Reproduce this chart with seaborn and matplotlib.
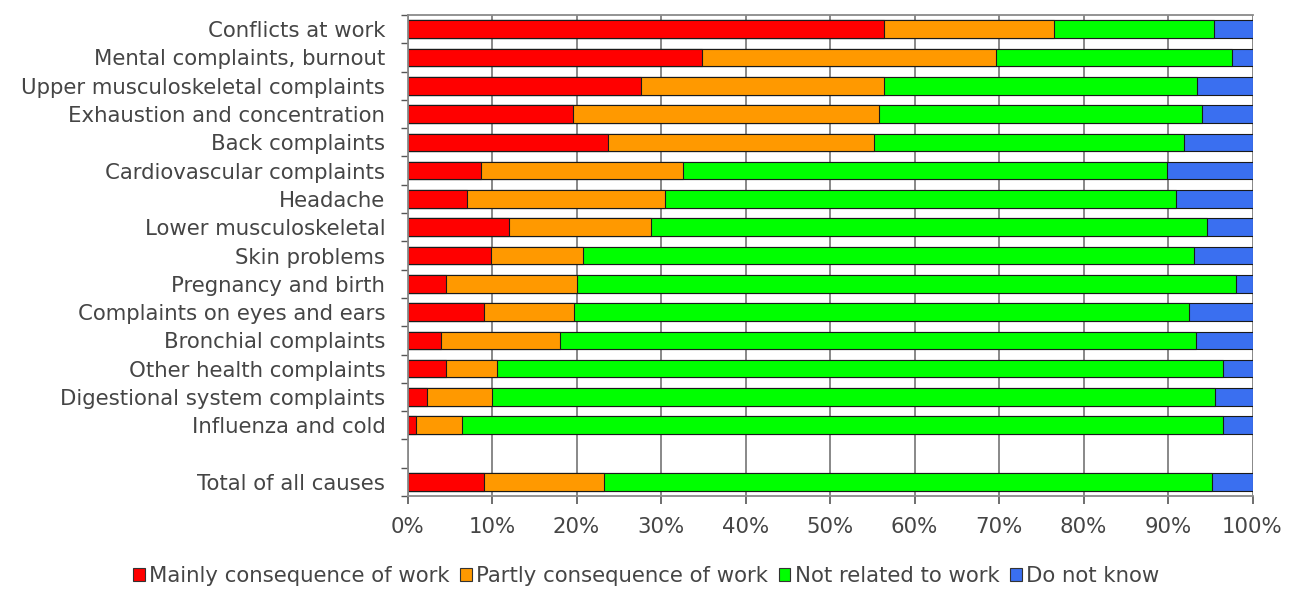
import matplotlib
matplotlib.use("Agg")
import matplotlib.pyplot as plt
from matplotlib.patches import Patch
import numpy as np
import pandas as pd
import seaborn as sns

causes = [
    "Conflicts at work", "Mental complaints, burnout", "Upper musculoskeletal complaints",
    "Exhaustion and concentration", "Back complaints", "Cardiovascular complaints",
    "Headache", "Lower musculoskeletal", "Skin problems", "Pregnancy and birth",
    "Complaints on eyes and ears", "Bronchial complaints", "Other health complaints",
    "Digestional system complaints", "Influenza and cold", "Total of all causes",
]
mainly = [56.4, 34.8, 27.6, 19.6, 23.7, 8.7, 7.1, 12.0, 9.9, 4.6, 9.1, 4.0, 4.6, 2.3, 1.0, 9.1]
partly = [20.1, 34.8, 28.8, 36.2, 31.5, 23.9, 23.4, 16.8, 10.9, 15.5, 10.6, 14.0, 6.0, 7.7, 5.5, 14.2]
not_related = [19.0, 28.0, 37.0, 38.2, 36.7, 57.3, 60.4, 65.8, 72.3, 77.9, 72.8, 75.3, 85.9, 85.6, 90.0, 71.9]
dont_know = [4.5, 2.4, 6.6, 6.0, 8.1, 10.1, 9.1, 5.4, 6.9, 2.0, 7.5, 6.7, 3.5, 4.4, 3.5, 4.8]

series_names = ["Mainly consequence of work", "Partly consequence of work",
                "Not related to work", "Do not know"]
colors = ["#FF0000", "#FF9900", "#00FF00", "#3A6FF0"]
xticks = list(range(0, 101, 10))
xticklabels = [f"{v}%" for v in xticks]

order = causes[:-1] + [" "] + causes[-1:]

df = pd.DataFrame({"cause": causes, "Mainly": mainly, "Partly": partly,
                   "Not": not_related, "DK": dont_know})
cols = ["Mainly", "Partly", "Not", "DK"]
cum = df[cols].cumsum(axis=1)
tot = cum["DK"]
for c in cols:
    df["cum_" + c] = cum[c] / tot * 100

sns.set_theme(style="white")
plt.rcParams["font.family"] = ["DejaVu Sans"]

fig = plt.figure(figsize=(12.99, 6.10), dpi=100)
ax = fig.add_axes([407.5 / 1299, 1 - 496 / 610, 845 / 1299, 481 / 610])

for c, col in reversed(list(zip(cols, colors))):
    sns.barplot(data=df, y="cause", x="cum_" + c, order=order, color=col,
                orient="h", width=0.62, edgecolor="#1a1a1a", linewidth=0.8,
                errorbar=None, saturation=1, ax=ax)

ax.set_xlim(0, 100)
ax.set_ylim(len(order) - 0.5, -0.5)
ax.set_xticks(xticks)
ax.set_xticklabels(xticklabels)
ax.set_xlabel("")
ax.set_ylabel("")
ax.xaxis.grid(True, color="#7f7f7f", linewidth=1.3)
ax.yaxis.grid(False)
ax.set_axisbelow(True)

txt = "#454545"
fs = 15.3
ax.tick_params(axis="x", which="major", length=6, width=1.2, color="#555555",
               direction="out", labelsize=fs, labelcolor=txt, pad=9, bottom=True)
ax.tick_params(axis="y", which="major", length=0, labelsize=fs, labelcolor=txt, pad=16)
ax.set_yticks(np.arange(-0.5, len(order), 1.0), minor=True)
ax.tick_params(axis="y", which="minor", length=5, width=1.0, color="#555555", direction="out", left=True)

for s in ["left", "bottom", "top"]:
    ax.spines[s].set_visible(True)
    ax.spines[s].set_color("#8a8a8a")
    ax.spines[s].set_linewidth(1.3)
ax.spines["right"].set_visible(False)

handles = [Patch(facecolor=col, edgecolor="#333333", linewidth=0.8) for col in colors]
fig.legend(handles, series_names, loc="center", bbox_to_anchor=(646 / 1299, 1 - 576 / 610),
           ncol=4, frameon=False, handlelength=0.55, handleheight=0.55, handletextpad=0.2,
           columnspacing=0.5, fontsize=fs, labelcolor=txt)

fig.savefig("out.png", dpi=100)
